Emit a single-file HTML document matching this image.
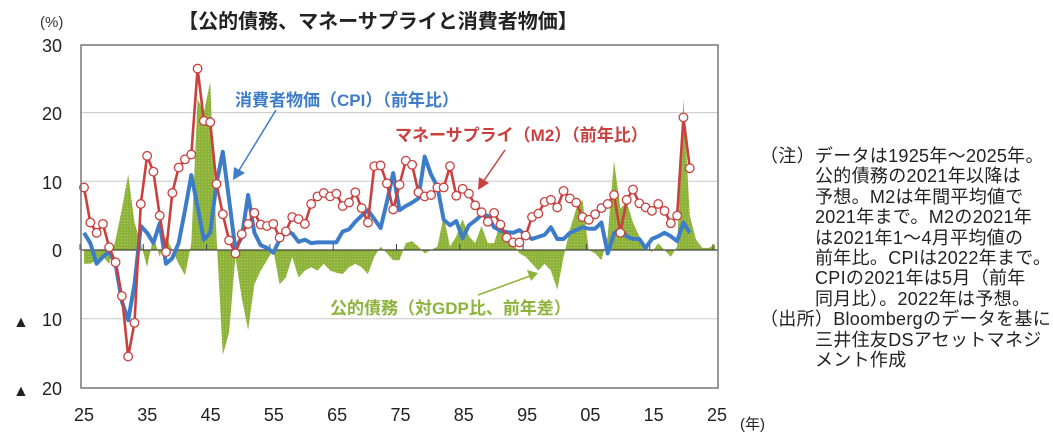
<!DOCTYPE html>
<html><head><meta charset="utf-8"><style>
body{margin:0;background:#fff;width:1053px;height:446px;overflow:hidden;font-family:"Liberation Sans","Noto Sans CJK JP",sans-serif}
svg text{font-family:"Liberation Sans","Noto Sans CJK JP",sans-serif}
.note{position:absolute;left:760px;top:146px;font-size:18px;line-height:20.4px;color:#222;white-space:nowrap;letter-spacing:0.3px}
.note div{padding-left:55px}
.note div.h{padding-left:0}
</style></head><body>
<svg id="s" width="1053" height="446" style="position:absolute;left:0;top:0">
<defs><pattern id="dots" width="3" height="3" patternUnits="userSpaceOnUse"><rect width="3" height="3" fill="#8db33a"/><rect x="1" y="1" width="1" height="1" fill="#b0c860"/></pattern></defs>
<g id="grid"></g>
<path id="green" fill="url(#dots)" stroke="none"/>
<line x1="81" y1="250" x2="718" y2="250" stroke="#444" stroke-width="1.3"/>
<g id="ticks"></g>
<path id="blue" fill="none" stroke="#3d7cc9" stroke-width="4" stroke-linejoin="round"/>
<path id="red" fill="none" stroke="#c9403e" stroke-width="2.6" stroke-linejoin="round"/>
<g id="circ"></g>
<rect x="81" y="45" width="637" height="343" fill="none" stroke="#777" stroke-width="1.5"/>
<text x="40" y="27" font-size="15" fill="#333">(%)</text>
<g font-size="18" fill="#222" text-anchor="end">
<text x="62" y="52">30</text><text x="62" y="120">20</text><text x="62" y="189">10</text><text x="62" y="257">0</text>
<text x="62" y="326">10</text><text x="62" y="395">20</text></g>
<text x="13" y="327" font-size="16" fill="#222">▲</text><text x="13" y="396" font-size="16" fill="#222">▲</text>
<g font-size="18" fill="#222" text-anchor="middle" id="xl"></g>
<text x="740" y="429" font-size="15" fill="#222">(年)</text>
<text x="378" y="28" font-size="20" font-weight="bold" fill="#222" text-anchor="middle">【公的債務、マネーサプライと消費者物価】</text>
<text x="235" y="106" font-size="17" font-weight="bold" fill="#3d7cc9">消費者物価（CPI）（前年比）</text>
<text x="395" y="141" font-size="17" font-weight="bold" fill="#c9403e">マネーサプライ（M2）（前年比）</text>
<text x="330" y="314" font-size="17" font-weight="bold" fill="#8db33a">公的債務（対GDP比、前年差）</text>
<line x1="276" y1="110" x2="238" y2="172" stroke="#3d7cc9" stroke-width="1.5"/><polygon points="233,180 234,167 245,173" fill="#3d7cc9"/>
<line x1="505" y1="150" x2="483" y2="182" stroke="#c9403e" stroke-width="1.5"/><polygon points="478,190 479,177 489,183" fill="#c9403e"/>
<line x1="478" y1="295" x2="530" y2="276" stroke="#8db33a" stroke-width="1.5"/><polygon points="538,273 527,270 531,281" fill="#8db33a"/>
</svg>
<div class="note">
<div class="h">（注）データは1925年～2025年。</div>
<div>公的債務の2021年以降は</div>
<div>予想。M2は年間平均値で</div>
<div>2021年まで。M2の2021年</div>
<div>は2021年1～4月平均値の</div>
<div>前年比。CPIは2022年まで。</div>
<div>CPIの2021年は5月（前年</div>
<div>同月比）。2022年は予想。</div>
<div class="h">（出所）Bloombergのデータを基に</div>
<div>三井住友DSアセットマネジ</div>
<div>メント作成</div>
</div>
<script>
const X=y=>84+6.31*(y-1925), Y=v=>250-6.87*v;
const m2=[9.1,4.0,2.5,3.8,0.4,-1.8,-6.7,-15.5,-10.6,6.7,13.7,11.4,5.0,-0.3,8.3,12.0,13.2,13.9,26.4,18.8,18.6,9.6,5.2,1.4,-0.5,2.3,3.8,5.4,3.7,3.5,3.8,1.8,2.7,4.8,4.5,3.8,6.7,7.8,8.3,7.8,8.2,6.4,6.9,8.4,6.1,4.0,12.2,12.3,9.7,5.9,9.5,13.0,12.4,8.4,7.8,8.0,9.1,9.1,12.2,7.9,8.9,8.2,6.5,5.5,4.1,5.4,3.7,1.8,1.1,1.1,2.1,4.8,5.3,7.0,7.3,6.2,8.6,7.5,6.9,4.8,4.4,5.2,6.1,6.7,8.0,2.5,7.3,8.8,6.8,6.2,5.7,6.7,5.7,3.9,5.0,19.3,11.9];
const cpi=[2.5,1.0,-2.0,-1.0,-0.2,-2.0,-7.5,-10.2,-5.0,3.5,2.5,1.0,3.9,-2.0,-1.2,1.0,5.8,10.9,6.3,1.5,2.5,9.7,14.3,7.3,0.1,1.9,8.0,2.5,0.7,0.3,-0.4,1.5,2.7,2.4,1.2,1.5,1.0,1.1,1.1,1.1,1.1,2.7,3.0,4.1,5.0,5.8,4.5,3.2,7.0,11.2,5.8,6.4,6.9,7.5,13.6,11.0,9.2,4.4,3.6,4.2,1.7,3.6,4.3,5.1,5.0,3.3,2.8,2.6,2.5,2.9,2.2,1.6,1.9,2.2,3.3,1.6,1.6,2.5,2.9,3.3,3.1,3.1,4.0,-0.5,2.4,3.1,2.0,1.6,1.6,0.3,1.6,2.0,2.5,2.0,1.3,4.0,2.5];
const gr=[-2,-2,-1.5,-1,-2,1.5,6,11,4,1,-2.5,2,-1,2,0,-2,-3.7,1,22,20,24.5,2,-15.3,-12,-1,-7,-11.7,-5,-3,-1.5,0,-5,-4,-1,-4,-3,-2.5,-3,-2,-3,-3.3,-3.5,-2.5,-2,-2.5,-3.5,-1,0.5,-0.5,-1.5,-1.5,1,1.3,0.5,-0.5,0,0.5,5,0.5,2,4.5,2,1,3.5,1,1,4,1.5,1,-0.5,-1,-2,-3,-2,-3,-5.8,-1,3,6,7.3,0,-0.5,-1.5,2,13,6,7,4,2,0.5,-0.3,1,0,-1,0.5,22,5,1.5,0.3,0.3,0.8];
const p=a=>a.map((v,i)=>(i?'L':'M')+X(1925+i).toFixed(1)+','+Y(v).toFixed(1)).join('');
document.getElementById('green').setAttribute('d',p(gr)+'L'+X(1925+gr.length-1)+',250L'+X(1925)+',250Z');
document.getElementById('blue').setAttribute('d',p(cpi));
document.getElementById('red').setAttribute('d',p(m2));
let c='';m2.forEach((v,i)=>c+=`<circle cx="${X(1925+i)}" cy="${Y(v)}" r="4.3" fill="#fff" stroke="#c9403e" stroke-width="1.3"/>`);
document.getElementById('circ').innerHTML=c;
let g='';[20,10,-10].forEach(v=>g+=`<line x1="81" x2="718" y1="${Y(v)}" y2="${Y(v)}" stroke="#c8c8c8" stroke-width="1"/>`);
document.getElementById('grid').innerHTML=g;
let t='',xl='';['25','35','45','55','65','75','85','95','05','15','25'].forEach((s,i)=>{const x=80+63.3*i;t+=`<line x1="${x}" x2="${x}" y1="244" y2="250" stroke="#444"/>`;xl+=`<text x="${x+4}" y="421">${s}</text>`});
document.getElementById('ticks').innerHTML=t;document.getElementById('xl').innerHTML=xl;
</script>
</body></html>
